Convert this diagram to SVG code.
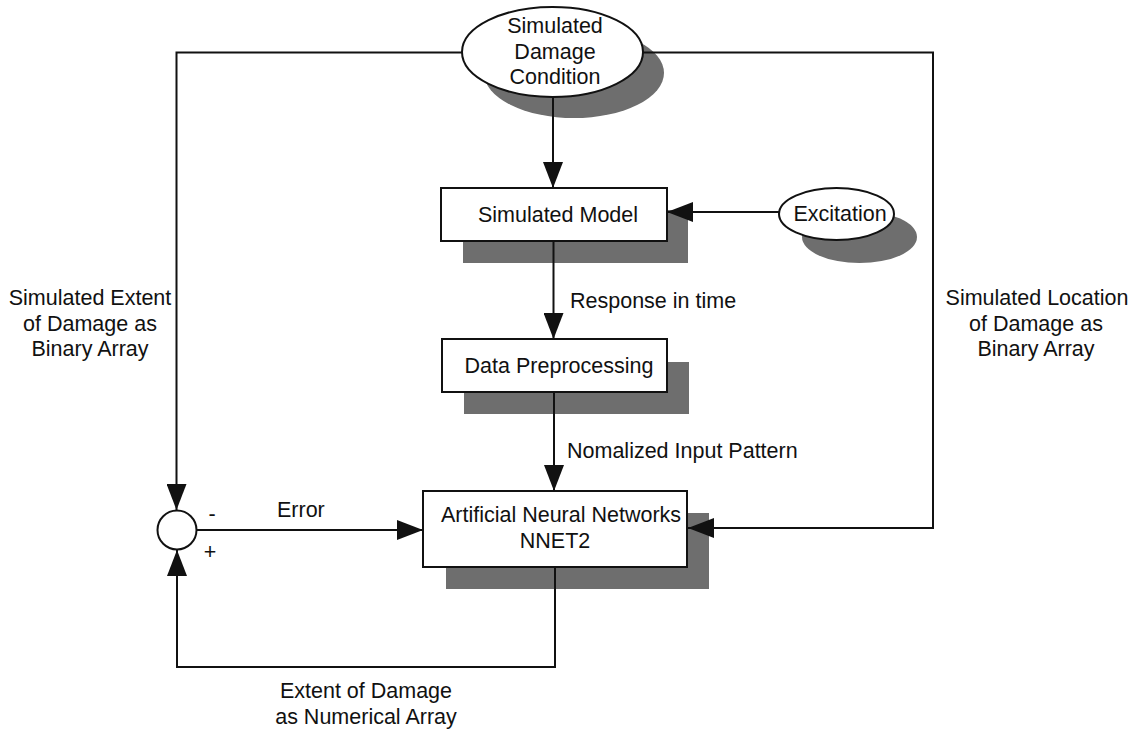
<svg xmlns="http://www.w3.org/2000/svg" width="1136" height="729" viewBox="0 0 1136 729">
  <style>
    text { font-family: "Liberation Sans", Arial, Helvetica, sans-serif; font-size: 21.5px; fill: #111111; }
    .mid { text-anchor: middle; }
    .shape { fill: #ffffff; stroke: #111111; stroke-width: 2; }
    .shadow { fill: #6e6e6e; }
    .wire { fill: none; stroke: #111111; stroke-width: 2; }
  </style>
  <defs>
    <marker id="head" markerUnits="userSpaceOnUse" markerWidth="26" markerHeight="20" refX="26" refY="10" orient="auto">
      <path d="M0,0 L26,10 L0,20 z" fill="#111111"/>
    </marker>
  </defs>

  <rect width="1136" height="729" fill="#ffffff"/>

  <!-- Source of simulated damage cases -->
  <g id="damage-condition">
    <ellipse class="shadow" cx="574" cy="73" rx="90" ry="45"/>
    <ellipse class="shape" cx="552.5" cy="52" rx="90.5" ry="45"/>
    <text class="mid" x="555" y="33">Simulated</text>
    <text class="mid" x="555" y="59">Damage</text>
    <text class="mid" x="555" y="84">Condition</text>
  </g>

  <g id="simulated-model">
    <rect class="shadow" x="463" y="210" width="225" height="53"/>
    <rect class="shape" x="441" y="188" width="226" height="53"/>
    <text class="mid" x="558" y="222">Simulated Model</text>
  </g>

  <g id="excitation">
    <ellipse class="shadow" cx="859.5" cy="237" rx="57.5" ry="26"/>
    <ellipse class="shape" cx="836.5" cy="214" rx="57.5" ry="26"/>
    <text class="mid" x="840" y="221">Excitation</text>
  </g>

  <g id="data-preprocessing">
    <rect class="shadow" x="464" y="362" width="225" height="52"/>
    <rect class="shape" x="442" y="339" width="225" height="53"/>
    <text class="mid" x="559" y="373">Data Preprocessing</text>
  </g>

  <g id="neural-network">
    <rect class="shadow" x="446" y="513" width="263" height="76"/>
    <rect class="shape" x="423" y="491" width="264" height="76"/>
    <text class="mid" x="561" y="522">Artificial Neural Networks</text>
    <text class="mid" x="555" y="548">NNET2</text>
  </g>

  <!-- Summing junction: target minus network output -->
  <g id="summing-junction">
    <circle class="shape" cx="177" cy="530" r="19.5" stroke-width="1.8"/>
    <text class="mid" x="212" y="521">-</text>
    <text class="mid" x="210" y="559">+</text>
  </g>

  <g id="connectors">
    <line class="wire" x1="553" y1="97" x2="553" y2="188" marker-end="url(#head)"/>
    <line class="wire" x1="779" y1="212" x2="667" y2="212" marker-end="url(#head)"/>
    <line class="wire" x1="553.5" y1="241" x2="553.5" y2="339" marker-end="url(#head)"/>
    <line class="wire" x1="554" y1="392" x2="554" y2="491" marker-end="url(#head)"/>
    <polyline class="wire" points="462,52.5 176.5,52.5 176.5,510" marker-end="url(#head)"/>
    <polyline class="wire" points="643,52.5 933,52.5 933,528 688,528" marker-end="url(#head)"/>
    <line class="wire" x1="197" y1="530" x2="423" y2="530" marker-end="url(#head)"/>
    <polyline class="wire" points="555,567 555,667 177,667 177,550" marker-end="url(#head)"/>
  </g>

  <g id="labels">
    <text x="570" y="308">Response in time</text>
    <text x="567" y="458">Nomalized Input Pattern</text>
    <text x="277" y="517">Error</text>
    <text class="mid" x="90" y="305">Simulated Extent</text>
    <text class="mid" x="90" y="331">of Damage as</text>
    <text class="mid" x="90" y="356">Binary Array</text>
    <text class="mid" x="1037" y="305">Simulated Location</text>
    <text class="mid" x="1036" y="331">of Damage as</text>
    <text class="mid" x="1036" y="356">Binary Array</text>
    <text class="mid" x="366" y="698">Extent of Damage</text>
    <text class="mid" x="366" y="724">as Numerical Array</text>
  </g>
</svg>
